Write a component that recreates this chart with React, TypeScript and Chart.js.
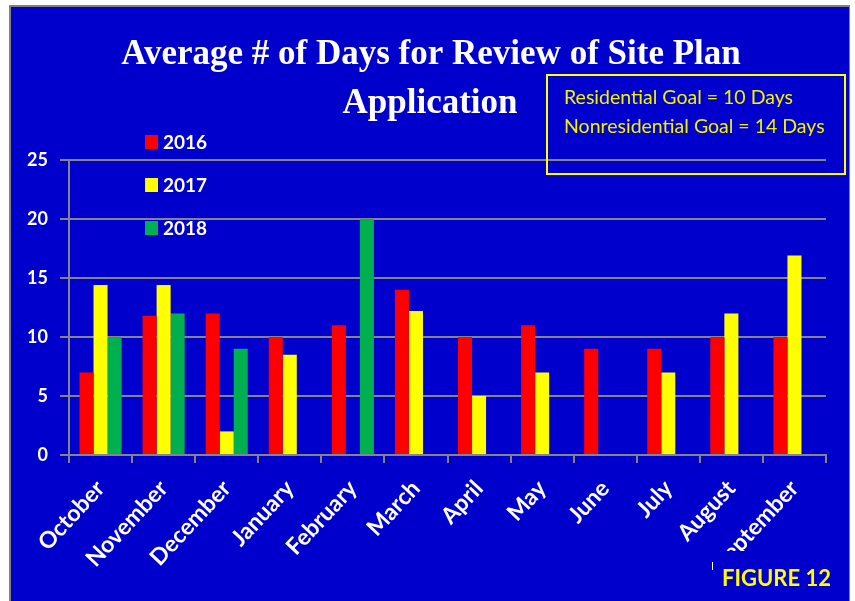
import React, { useEffect, useRef } from "react";
import { Chart, registerables } from "chart.js";

Chart.register(...registerables);

const months = ["October", "November", "December", "January", "February", "March", "April", "May", "June", "July", "August", "September"];
const seriesNames = ["2016", "2017", "2018"];
const values2016 = [7, 11.8, 12, 10, 11, 14, 10, 11, 9, 9, 10, 10];
const values2017 = [14.4, 14.4, 2, 8.5, null, 12.2, 5, 7, null, 7, 12, 16.9];
const values2018 = [10, 12, 9, null, 20, null, null, null, null, null, null, null];
const seriesColors = ["#FF0000", "#FFFF00", "#00B050"];
const yTicks = { min: 0, max: 25, step: 5 };
const titleLines = ["Average # of Days for Review of Site Plan", "Application"];
const goalLines = ["Residential Goal = 10 Days", "Nonresidential Goal = 14 Days"];
const figureLabel = "FIGURE 12";

const BLUE = "#0000CC";
const GRID = "#858585";
const SANS = 'Lato, "Open Sans", sans-serif';

const decorPlugin = {
  id: "decor",
  beforeDraw(chart: any) {
    const ctx = chart.ctx;
    ctx.save();
    ctx.fillStyle = "#ffffff";
    ctx.fillRect(0, 0, chart.width, chart.height);
    ctx.fillStyle = "#808080";
    ctx.fillRect(9, 5, 841, 596);
    ctx.fillStyle = BLUE;
    ctx.fillRect(11, 7, 838, 594);
    ctx.restore();
  },
  afterDraw(chart: any) {
    const ctx = chart.ctx;
    ctx.save();
    // title
    ctx.fillStyle = "#ffffff";
    ctx.font = 'bold 35px "Liberation Serif", serif';
    ctx.textAlign = "center";
    ctx.textBaseline = "alphabetic";
    ctx.fillText(titleLines[0], 431, 64);
    ctx.fillText(titleLines[1], 430, 113);

    // legend (vertical, overlaying plot)
    ctx.textAlign = "left";
    ctx.textBaseline = "middle";
    ctx.font = `bold 19px ${SANS}`;
    chart.data.datasets.forEach((ds: any, i: number) => {
      const cy = 142 + i * 43;
      ctx.fillStyle = ds.backgroundColor;
      ctx.fillRect(145, cy - 7, 13, 14);
      ctx.fillStyle = "#ffffff";
      ctx.fillText(ds.label, 163, cy + 1);
    });

    // goal box
    ctx.strokeStyle = "#FFFF00";
    ctx.lineWidth = 2;
    ctx.strokeRect(547, 75, 298, 99);
    ctx.fillStyle = "#F2F200";
    ctx.font = `19.5px ${SANS}`;
    ctx.fillText(goalLines[0], 564, 98);
    ctx.fillText(goalLines[1], 564, 127);

    // figure label box
    ctx.fillStyle = BLUE;
    ctx.fillRect(712, 551, 137, 50);
    ctx.fillStyle = "#ffffff";
    ctx.fillRect(712, 562, 1, 8);
    ctx.fillStyle = "#FFFF00";
    ctx.font = `bold 22px ${SANS}`;
    ctx.textBaseline = "alphabetic";
    ctx.fillText(figureLabel, 722, 586);
    ctx.restore();
  },
};

export default function App() {
  const ref = useRef<HTMLCanvasElement>(null);
  useEffect(() => {
    if (!ref.current) return;
    const data = [values2016, values2017, values2018];
    const chart = new Chart(ref.current, {
      type: "bar",
      data: {
        labels: months,
        datasets: seriesNames.map((name, i) => ({
          label: name,
          data: data[i],
          backgroundColor: seriesColors[i],
          borderWidth: 0,
          categoryPercentage: 0.667,
          barPercentage: 1.0,
        })),
      },
      options: {
        responsive: false,
        animation: false,
        layout: { padding: { top: 160, right: 29, left: 0, bottom: 0 } },
        plugins: {
          legend: { display: false },
          title: { display: false },
          tooltip: { enabled: false },
        },
        scales: {
          x: {
            offset: true,
            grid: {
              display: true,
              offset: true,
              drawOnChartArea: false,
              drawTicks: true,
              tickLength: 8,
              color: GRID,
              lineWidth: 2,
            },
            border: { display: true, color: GRID, width: 2 },
            ticks: {
              color: "#ffffff",
              font: { family: SANS, size: 23, weight: "bold" },
              minRotation: 47,
              maxRotation: 47,
              padding: 12,
              autoSkip: false,
            },
            afterFit: (s: any) => {
              s.height = 146;
            },
          },
          y: {
            min: yTicks.min,
            max: yTicks.max,
            ticks: {
              stepSize: yTicks.step,
              color: "#ffffff",
              font: { family: SANS, size: 18, weight: "bold" },
              padding: 12,
            },
            grid: { color: GRID, lineWidth: 2, tickLength: 9, drawTicks: true },
            border: { display: true, color: GRID, width: 2 },
            afterFit: (s: any) => {
              s.width = 69;
            },
          },
        },
      },
      plugins: [decorPlugin],
    });
    return () => chart.destroy();
  }, []);
  return (
    <div style={{ position: "fixed", left: 0, top: 0, width: 855, height: 601 }}>
      <canvas ref={ref} width={855} height={601} style={{ width: 855, height: 601, display: "block" }} />
    </div>
  );
}
